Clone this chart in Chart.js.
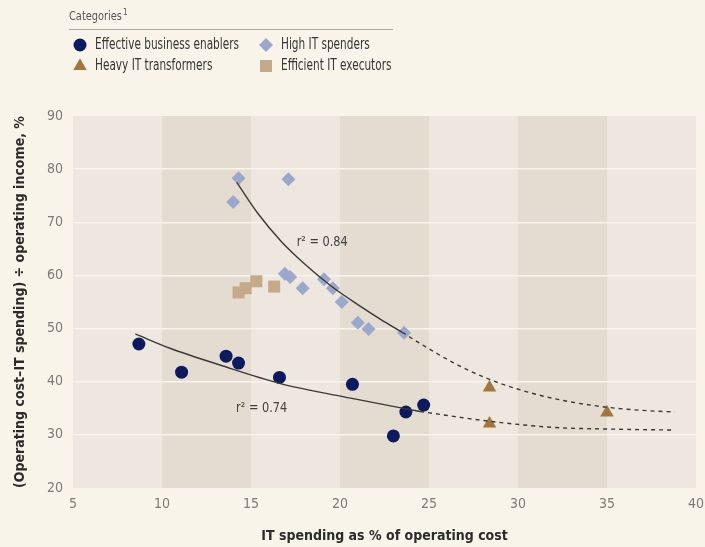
<!DOCTYPE html>
<html>
<head>
<meta charset="utf-8">
<script src="https://cdn.jsdelivr.net/npm/chart.js@4.4.1/dist/chart.umd.min.js"></script>
<style>
  body { margin: 0; background: #f8f4ea; }
  #wrap { width: 705px; height: 547px; }
</style>
</head>
<body>
<div id="wrap"><canvas id="it_spending_chart" width="705" height="547"></canvas></div>
<script>
// scatter points: [IT spending %, ratio %]
const enablers_x = [8.7, 11.1, 13.6, 14.3, 16.6, 20.7, 23.0, 23.7, 24.7];
const enablers_y = [47.1, 41.8, 44.8, 43.5, 40.8, 39.5, 29.8, 34.3, 35.6];

const spenders_x = [14.3, 14.0, 17.1, 16.9, 17.2, 17.9, 19.1, 19.6, 20.1, 21.0, 21.6, 23.6];
const spenders_y = [78.3, 73.8, 78.1, 60.3, 59.7, 57.6, 59.3, 57.6, 55.0, 51.1, 49.9, 49.2];

const transformers_x = [28.4, 28.4, 35.0];
const transformers_y = [38.9, 32.1, 34.2];

const executors_x = [14.3, 14.7, 15.3, 16.3];
const executors_y = [56.8, 57.6, 58.9, 57.9];

// trend lines
const upper_solid_x = [14.2, 15.4, 16.7, 18.0, 19.5, 21.0, 22.3, 23.5];
const upper_solid_y = [77.5, 71.6, 66.4, 62.2, 58.0, 54.5, 51.7, 49.3];
const upper_dash_x = [23.5, 24.5, 26.3, 28.2, 30.5, 32.8, 35.0, 37.0, 38.8];
const upper_dash_y = [49.3, 47.2, 43.7, 40.7, 38.1, 36.3, 35.2, 34.6, 34.3];

const lower_solid_x = [8.5, 10.45, 13.3, 16.6, 20.6, 24.5];
const lower_solid_y = [49.0, 46.3, 43.1, 39.7, 36.9, 34.4];
const lower_dash_x = [24.5, 28.3, 32.0, 35.0, 38.8];
const lower_dash_y = [34.4, 32.6, 31.4, 31.1, 30.9];

const fit_labels = ["r\u00b2 = 0.84", "r\u00b2 = 0.74"];
const fit_label_x = [19.0, 15.6];
const fit_label_y = [66.3, 35.0];

const x_ticks = [5, 10, 15, 20, 25, 30, 35, 40];
const y_ticks = [20, 30, 40, 50, 60, 70, 80, 90];

const sans = "'Liberation Sans Narrow', 'DejaVu Sans Condensed', 'DejaVu Sans', sans-serif";

function pts(xs, ys) {
    return xs.map((x, i) => ({ x: x, y: ys[i] }));
}

function trend(xs, ys, dashed) {
    return {
        type: "line",
        data: pts(xs, ys),
        showLine: true,
        borderColor: "#3b3936",
        borderWidth: 1.4,
        borderDash: dashed ? [4, 4] : [],
        pointRadius: 0,
        cubicInterpolationMode: "monotone",
        fill: false
    };
}

// narrow-looking text: squeeze horizontally
function squeezed(ctx, text, x, y, sx) {
    ctx.save();
    ctx.translate(x, y);
    ctx.scale(sx, 1);
    ctx.fillText(text, 0, 0);
    ctx.restore();
}

const band_plugin = {
    id: "bands",
    beforeDraw(chart) {
        const ctx = chart.ctx;
        const area = chart.chartArea;
        const xs = chart.scales.x;
        ctx.save();
        for (let i = 0; i < x_ticks.length - 1; i++) {
            const l = xs.getPixelForValue(x_ticks[i]);
            const r = xs.getPixelForValue(x_ticks[i + 1]);
            ctx.fillStyle = i % 2 === 1 ? "#e4dcd1" : "#eee7e0";
            ctx.fillRect(l, area.top, r - l, area.bottom - area.top);
        }
        ctx.restore();
    }
};

const legend_plugin = {
    id: "categories",
    afterDraw(chart) {
        const ctx = chart.ctx;
        const xs = chart.scales.x;
        const ys = chart.scales.y;
        ctx.save();
        ctx.textBaseline = "middle";
        ctx.font = "13px " + sans;
        ctx.fillStyle = "#555";
        squeezed(ctx, "Categories", 69, 17, 0.84);
        const w = ctx.measureText("Categories").width * 0.84;
        ctx.font = "8px " + sans;
        ctx.fillText("1", 69 + w + 1, 13);
        ctx.strokeStyle = "#aaa69f";
        ctx.lineWidth = 1;
        ctx.beginPath();
        ctx.moveTo(69, 29.5);
        ctx.lineTo(393, 29.5);
        ctx.stroke();

        const slots = [[80, 45], [80, 66], [266, 45], [266, 66]];
        const items = chart.data.datasets.filter(d => d.category);
        items.forEach((d, i) => {
            const s = slots[i];
            ctx.fillStyle = d.backgroundColor;
            Chart.helpers.drawPoint(ctx, {
                pointStyle: d.pointStyle,
                radius: d.pointRadius,
                rotation: 0,
                borderWidth: 0
            }, s[0], s[1]);
            ctx.font = "15px " + sans;
            ctx.fillStyle = "#363636";
            squeezed(ctx, d.label, s[0] + 15, s[1], 0.78);
        });

        ctx.font = "14px " + sans;
        ctx.fillStyle = "#3f3f3f";
        ctx.textAlign = "center";
        fit_labels.forEach((t, i) => {
            squeezed(ctx, t, xs.getPixelForValue(fit_label_x[i]), ys.getPixelForValue(fit_label_y[i]), 0.9);
        });
        ctx.restore();
    }
};

const it_spending_chart = new Chart("it_spending_chart",
{
    type: "scatter",
    data:
    {
        datasets:
        [
            trend(upper_solid_x, upper_solid_y, false),
            trend(upper_dash_x, upper_dash_y, true),
            trend(lower_solid_x, lower_solid_y, false),
            trend(lower_dash_x, lower_dash_y, true),
            {
                label: "Effective business enablers",
                category: true,
                data: pts(enablers_x, enablers_y),
                pointStyle: "circle",
                pointRadius: 6.5,
                backgroundColor: "#0d1b5e",
                borderWidth: 0
            },
            {
                label: "Heavy IT transformers",
                category: true,
                data: pts(transformers_x, transformers_y),
                pointStyle: "triangle",
                pointRadius: 7.8,
                backgroundColor: "#a2773f",
                borderWidth: 0
            },
            {
                label: "High IT spenders",
                category: true,
                data: pts(spenders_x, spenders_y),
                pointStyle: "rectRot",
                pointRadius: 7,
                backgroundColor: "#9ba8cc",
                borderWidth: 0
            },
            {
                label: "Efficient IT executors",
                category: true,
                data: pts(executors_x, executors_y),
                pointStyle: "rect",
                pointRadius: 8.5,
                backgroundColor: "#c4aa8b",
                borderWidth: 0
            }
        ]
    },
    options:
    {
        animation: false,
        responsive: false,
        layout:
        {
            padding: { top: 116, right: 0, left: 0, bottom: 0 }
        },
        plugins:
        {
            legend: { display: false },
            tooltip: { enabled: false }
        },
        scales:
        {
            x:
            {
                type: "linear",
                min: 5,
                max: 40,
                afterBuildTicks: (s) => { s.ticks = x_ticks.map(v => ({ value: v })); },
                afterFit: (s) => { s.height = 59; s.paddingRight = 9; s.paddingLeft = 0; },
                grid: { display: false, drawTicks: false },
                border: { display: false },
                ticks:
                {
                    color: "#7d7a75",
                    font: { family: sans, size: 14 },
                    padding: 8
                },
                title:
                {
                    display: true,
                    text: "IT spending as % of operating cost",
                    color: "#2b2b2b",
                    font: { family: sans, size: 14, weight: "bold" },
                    padding: { top: 6, bottom: 2 }
                }
            },
            y:
            {
                min: 20,
                max: 90,
                afterBuildTicks: (s) => { s.ticks = y_ticks.map(v => ({ value: v })); },
                afterFit: (s) => { s.width = 73; },
                grid:
                {
                    color: (c) => (c.tick && (c.tick.value === 20 || c.tick.value === 90)) ? "rgba(0,0,0,0)" : "#f7f3ee",
                    lineWidth: 1.5,
                    drawTicks: false
                },
                border: { display: false },
                ticks:
                {
                    color: "#7d7a75",
                    font: { family: sans, size: 14 },
                    padding: 10
                },
                title:
                {
                    display: true,
                    text: "(Operating cost\u2013IT spending) \u00f7 operating income, %",
                    color: "#2b2b2b",
                    font: { family: sans, size: 14, weight: "bold" },
                    padding: { top: 12, bottom: 0 }
                }
            }
        }
    },
    plugins: [band_plugin, legend_plugin]
});
</script>
</body>
</html>
